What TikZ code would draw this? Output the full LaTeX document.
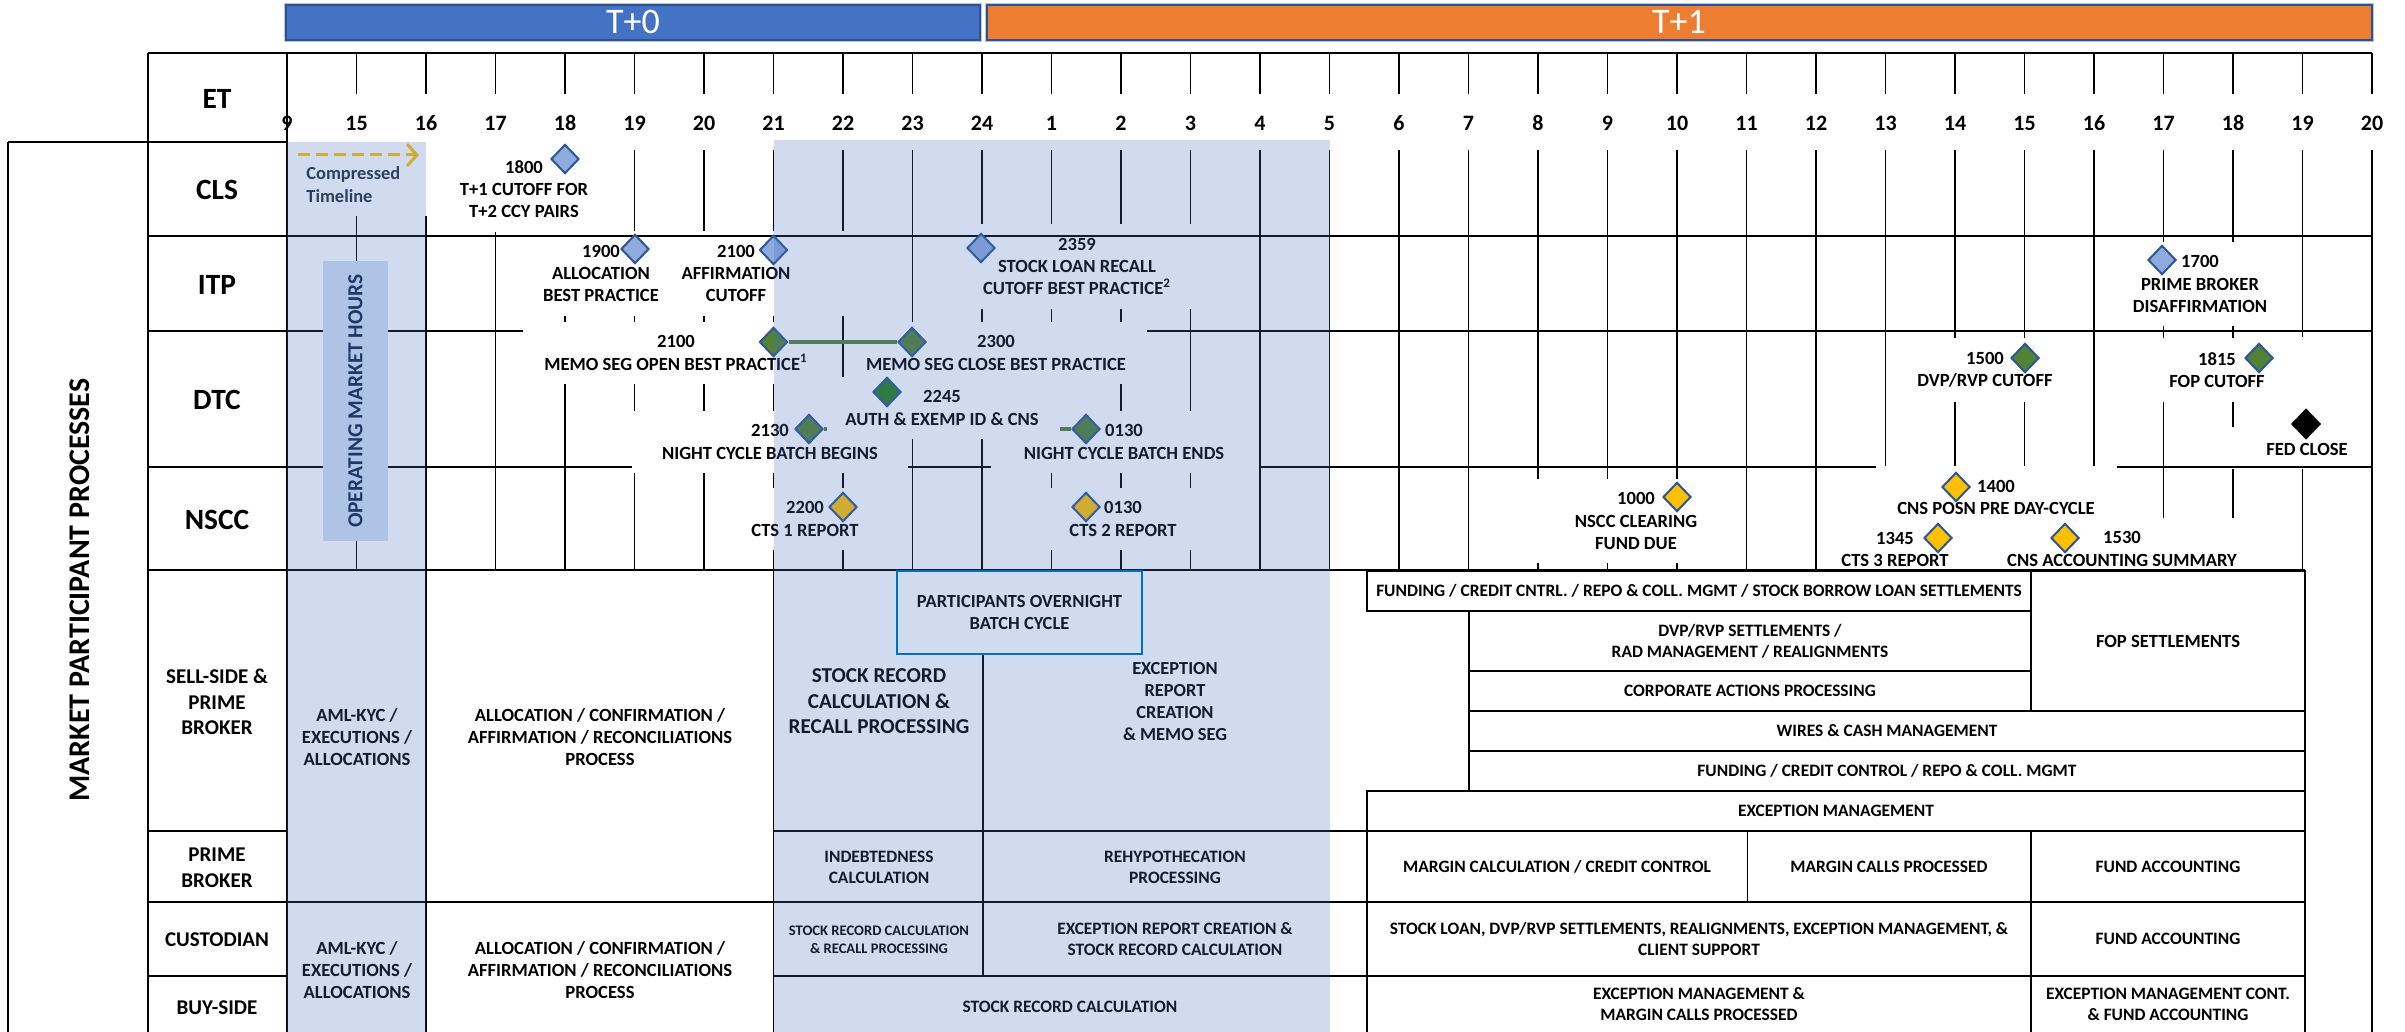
\documentclass[tikz,border=0pt]{standalone}
\usepackage{fontspec}
\setmainfont{Carlito}
\usetikzlibrary{shapes.geometric,arrows.meta}
\definecolor{tzero}{HTML}{4472C4}
\definecolor{tone}{HTML}{ED7D31}
\definecolor{tbord}{HTML}{2F528F}
\definecolor{thalo}{HTML}{B4C7E7}
\definecolor{dbord}{HTML}{2F5597}
\definecolor{dblue}{HTML}{8FAADC}
\definecolor{dgreen}{HTML}{548235}
\definecolor{ddkgreen}{HTML}{287D18}
\definecolor{dgold}{HTML}{FFC000}
\definecolor{opbox}{HTML}{AFC3E6}
\definecolor{navy}{HTML}{1F3864}
\definecolor{pbord}{HTML}{0070C0}
\definecolor{ctext}{HTML}{262E3A}
\newcommand\fz[2]{\fontsize{#1}{#2}\selectfont\bfseries}
\newcommand\uplabels[1]{%
\node[#1] (t1800) at (524,189) {1800\\T+1 CUTOFF FOR\\T+2 CCY PAIRS};
\node[#1] (t1900) at (601,273.5) {1900\\ALLOCATION\\BEST PRACTICE};
\node[#1,inner xsep=27pt] (t2100a) at (736,273.5) {2100\\AFFIRMATION\\CUTOFF};
\node[#1,inner xsep=13pt] (t2359) at (1077,266.5) {2359\\STOCK LOAN RECALL\\CUTOFF BEST PRACTICE\textsuperscript{2}};
\node[#1] (t1700) at (2200,284) {1700\\PRIME BROKER\\DISAFFIRMATION};
\node[#1] (t2100m) at (676,353) {2100\\MEMO SEG OPEN BEST PRACTICE\textsuperscript{1}};
\node[#1,inner xsep=10pt] (t2300) at (996,353) {2300\\MEMO SEG CLOSE BEST PRACTICE};
\node[#1] (t2245) at (942,408) {2245\\AUTH \& EXEMP ID \& CNS};
\node[#1,inner xsep=14pt] (t2130) at (770,442) {2130\\NIGHT CYCLE BATCH BEGINS};
\node[#1,inner xsep=15pt] (t0130d) at (1124,442) {0130\\NIGHT CYCLE BATCH ENDS};
\node[#1] (t1500) at (1985,370) {1500\\DVP/RVP CUTOFF};
\node[#1] (t1815) at (2217,370) {1815\\FOP CUTOFF};
\node[#1,inner xsep=0pt,inner ysep=0pt] (tfed) at (2307,449) {FED CLOSE};
\node[#1] (t2200) at (805,519) {2200\\CTS 1 REPORT};
\node[#1] (t0130n) at (1123,519) {0130\\CTS 2 REPORT};
\node[#1,inner xsep=19pt] (t1000) at (1636,521) {1000\\NSCC CLEARING\\FUND DUE};
\node[#1,inner xsep=10pt] (t1400) at (1996,497.5) {1400\\CNS POSN PRE DAY-CYCLE};
\node[#1] (t1345) at (1895,549.5) {1345\\CTS 3 REPORT};
\node[#1] (t1530) at (2122,549) {1530\\CNS ACCOUNTING SUMMARY};
}
\begin{document}
\begin{tikzpicture}[x=0.5pt,y=-0.5pt,
  grid/.style={line width=0.7pt,black},
  heavy/.style={line width=1.3pt,black},
  lab/.style={font=\fz{9.3}{11.1},align=center,inner sep=0pt},
  txt/.style={lab},
  msk/.style={lab,fill=white,text=white,inner xsep=12pt,inner ysep=7pt},
  dia/.style={diamond,minimum width=14pt,minimum height=14.6pt,inner sep=0pt,draw=dbord,line width=1pt},
  gline/.style={dgreen,line width=2pt},
  low/.style={font=\fz{8.7}{10.5},align=center,inner sep=0pt},
  mid/.style={font=\fz{9.3}{11.2},align=center,inner sep=0pt},
  rowlab/.style={font=\fz{14.7}{16},align=center,inner sep=0pt},
  rowlabs/.style={font=\fz{10.5}{12.85},align=center,inner sep=0pt},
]
\useasboundingbox (0,0) rectangle (2405,1032);
\fill[white] (0,0) rectangle (2405,1032);

% ---- top bars
\draw[thalo,line width=2pt] (286,5) rectangle (980,40);
\draw[thalo,line width=2pt] (987,5) rectangle (2372,40);
\draw[tbord,fill=tzero,line width=1pt] (286,5) rectangle (980,40);
\draw[tbord,fill=tone,line width=1pt] (987,5) rectangle (2372,40);
\node[font=\fontsize{18}{20}\selectfont,text=white,inner sep=0pt] (tzl) at (633,22) {T+0};
\node[font=\fontsize{18}{20}\selectfont,text=white,inner sep=0pt] (tol) at (1679,22) {T+1};

% ---- header
\draw[heavy] (148,53) -- (2372,53);
\foreach \i in {1,...,30} \draw[grid] ({287+69.5*\i},53) -- ({287+69.5*\i},94);
\foreach \lab [count=\i from 0] in {9,15,16,17,18,19,20,21,22,23,24,1,2,3,4,5,6,7,8,9,10,11,12,13,14,15,16,17,18,19,20}
  \node[font=\fz{11}{12},inner sep=0pt] (h\i) at ({287+69.5*\i},123) {\lab};
\node[rowlab] (et) at (217,99) {ET};

% ---- vertical grid lines (upper rows)
\foreach \i in {3,4,5,6,8,9,...,29} \draw[grid] ({287+69.5*\i},150) -- ({287+69.5*\i},570);
\draw[grid] (356.5,216) -- (356.5,570);
\draw[grid] (426,216) -- (426,1032);
\draw[grid] (773.5,150) -- (773.5,1032);

% ---- label masks and texts
\uplabels{msk}
\fill[white] (2226,427) rectangle (2366,469);
\fill[white] (2285,337) rectangle (2366,427);
\uplabels{txt}
\draw[grid] (2372,150) -- (2372,1032);

% ---- horizontal lines (upper rows)
\draw[grid] (148,236) -- (2372,236);
\draw[grid] (148,331) -- (523,331) (1147,331) -- (2372,331);
\draw[grid] (148,467) -- (632,467) (908,467) -- (991,467) (1259,467) -- (1876,467) (2117,467) -- (2372,467);
\draw[grid] (148,570) -- (2305,570);

% ---- diamonds
\node[dia,fill=dblue] (d1800) at (565,159) {};
\node[dia,fill=dblue] (d1900) at (635,249) {};
\node[dia,fill=dblue] (d2100a) at (773.5,250) {};
\node[dia,fill=dblue] (d2359) at (981,248) {};
\node[dia,fill=dblue] (d1700) at (2162,260) {};
\node[dia,fill=dgreen] (d2100m) at (773.5,342) {};
\node[dia,fill=dgreen] (d2300) at (912,342) {};
\node[dia,fill=ddkgreen] (d2245) at (887,392) {};
\node[dia,fill=dgreen] (d2130) at (809,429) {};
\node[dia,fill=dgreen] (d0130d) at (1086,429) {};
\node[dia,fill=dgreen] (d1500) at (2025,358) {};
\node[dia,fill=dgreen] (d1815) at (2259,358) {};
\node[dia,fill=black,draw=black] (dfed) at (2306,424) {};
\node[dia,fill=dgold] (d2200) at (843,507) {};
\node[dia,fill=dgold] (d0130n) at (1086,507) {};
\node[dia,fill=dgold] (d1000) at (1677,497) {};
\node[dia,fill=dgold] (d1400) at (1956,487) {};
\node[dia,fill=dgold] (d1345) at (1938,538) {};
\node[dia,fill=dgold] (d1530) at (2065,538) {};
\draw[gline] (d2100m) -- (d2300);
\coordinate (s2130) at (827,429);
\coordinate (s0130) at (1060,429);
\draw[gline] (d2130) -- (s2130);
\draw[gline] (s0130) -- (d0130d);

% ---- compressed timeline
\coordinate (ca) at (298,155);
\coordinate (cb) at (419,155);
\draw[dgold,line width=1.5pt,dash pattern=on 6pt off 3pt,-{Straight Barb[length=5pt,width=11pt,line width=1.5pt]}] (ca) -- (cb);
\node[anchor=west,align=left,font=\fz{9.2}{11.5},text=ctext,inner sep=0pt] (ctl) at (306,184.5) {Compressed\\Timeline};

% ---- label column and outer box
\draw[heavy] (148,53) -- (148,1032);
\draw[heavy] (287,53) -- (287,1032);
\draw[heavy] (8,142) -- (287,142);
\draw[grid] (8,142) -- (8,1032);
\foreach \yy in {236,331,467,570,831,902,976} \draw[heavy] (148,\yy) -- (287,\yy);
\node[rowlab] (lcls) at (217,190) {CLS};
\node[rowlab] (litp) at (217,285) {ITP};
\node[rowlab] (ldtc) at (217,400) {DTC};
\node[rowlab] (lnscc) at (217,520) {NSCC};
\node[rowlabs] (lsell) at (217,702) {SELL-SIDE \&\\PRIME\\BROKER};
\node[rowlabs] (lpb) at (217,867.5) {PRIME\\BROKER};
\node[rowlabs] (lcus) at (217,940) {CUSTODIAN};
\node[rowlabs] (lbuy) at (217,1008) {BUY-SIDE};
\node[rotate=90,font=\fz{15}{16},inner sep=0pt] (mpp) at (80,590) {MARKET PARTICIPANT PROCESSES};

% ---- lower section, left
\node[mid] (aml1) at (357,737) {AML-KYC /\\EXECUTIONS /\\ALLOCATIONS};
\node[mid] (aml2) at (357,970) {AML-KYC /\\EXECUTIONS /\\ALLOCATIONS};
\node[mid] (alc1) at (600,737) {ALLOCATION / CONFIRMATION /\\AFFIRMATION / RECONCILIATIONS\\PROCESS};
\node[mid] (alc2) at (600,970) {ALLOCATION / CONFIRMATION /\\AFFIRMATION / RECONCILIATIONS\\PROCESS};
\draw[grid] (287,902) -- (2305,902);

% ---- lower section, night
\draw[grid] (774,831) -- (2305,831);
\draw[grid] (774,976) -- (2305,976);
\draw[grid] (983,654) -- (983,976);
\node[fill=white,minimum width=122.5pt,minimum height=41.5pt,font=\fz{9.25}{11},align=center,inner sep=0pt] (pobc) at (1019.5,612.5) {PARTICIPANTS OVERNIGHT\\BATCH CYCLE};
\node[font=\fz{10.6}{12.75},align=center,inner sep=0pt] (srcr) at (879,701.5) {STOCK RECORD\\CALCULATION \&\\RECALL PROCESSING};
\node[font=\fz{9.2}{11.1},align=center,inner sep=0pt] (ercm) at (1175,701.5) {EXCEPTION\\REPORT\\CREATION\\\& MEMO SEG};
\node[low] (indb) at (879,867) {INDEBTEDNESS\\CALCULATION};
\node[low] (rehy) at (1175,867) {REHYPOTHECATION\\PROCESSING};
\node[font=\fz{7.3}{9},align=center,inner sep=0pt] (srcc) at (879,939.7) {STOCK RECORD CALCULATION\\\& RECALL PROCESSING};
\node[low] (ercs) at (1175,939.5) {EXCEPTION REPORT CREATION \&\\STOCK RECORD CALCULATION};
\node[low] (srcb) at (1070,1006.7) {STOCK RECORD CALCULATION};

% ---- lower section, right boxes
\draw[grid] (1367,571) rectangle (2031,611);
\draw[grid] (1469,611) rectangle (2031,671);
\draw[grid] (1469,671) rectangle (2031,711);
\draw[grid] (2031,571) rectangle (2305,711);
\draw[grid] (1469,711) rectangle (2305,751);
\draw[grid] (1469,751) rectangle (2305,791);
\draw[grid] (1367,791) rectangle (2305,831);
\draw[grid] (1367,831) rectangle (1747.5,902);
\draw[grid] (1747.5,831) rectangle (2031,902);
\draw[grid] (2031,831) rectangle (2305,902);
\draw[grid] (1367,902) rectangle (2031,976);
\draw[grid] (2031,902) rectangle (2305,976);
\draw[grid] (1367,976) -- (1367,1032) (2031,976) -- (2031,1032) (2305,976) -- (2305,1032);
\node[low] (r1) at (1699,591) {FUNDING / CREDIT CNTRL. / REPO \& COLL. MGMT / STOCK BORROW LOAN SETTLEMENTS};
\node[low] (r2) at (1750,641) {DVP/RVP SETTLEMENTS /\\RAD MANAGEMENT / REALIGNMENTS};
\node[low] (r3) at (1750,691) {CORPORATE ACTIONS PROCESSING};
\node[font=\fz{9.3}{11},inner sep=0pt] (r4) at (2168,641) {FOP SETTLEMENTS};
\node[low] (r5) at (1887,731) {WIRES \& CASH MANAGEMENT};
\node[low] (r6) at (1887,771) {FUNDING / CREDIT CONTROL / REPO \& COLL. MGMT};
\node[low] (r7) at (1836,811) {EXCEPTION MANAGEMENT};
\node[low] (r8) at (1557,867) {MARGIN CALCULATION / CREDIT CONTROL};
\node[low] (r9) at (1889,867) {MARGIN CALLS PROCESSED};
\node[low] (r10) at (2168,867) {FUND ACCOUNTING};
\node[low] (r11) at (1699,939) {STOCK LOAN, DVP/RVP SETTLEMENTS, REALIGNMENTS, EXCEPTION MANAGEMENT, \&\\CLIENT SUPPORT};
\node[low] (r12) at (2168,939) {FUND ACCOUNTING};
\node[low] (r13) at (1699,1004) {EXCEPTION MANAGEMENT \&\\MARGIN CALLS PROCESSED};
\node[low] (r14) at (2168,1004) {EXCEPTION MANAGEMENT CONT.\\\& FUND ACCOUNTING};

% ---- translucent blue overlays
\fill[tzero,opacity=0.25] (287,142) rectangle (426,1032);
\fill[tzero,opacity=0.25] (773.5,140) rectangle (1330,1032);

% ---- items above the overlay
\draw[pbord,line width=1pt] (pobc.north west) rectangle (pobc.south east);
\fill[opbox] (323,261) rectangle (388,541);
\node[rotate=90,font=\fz{10.7}{12},text=navy,inner sep=0pt] (ophr) at (355.5,401) {OPERATING MARKET HOURS};
\end{tikzpicture}
\end{document}
